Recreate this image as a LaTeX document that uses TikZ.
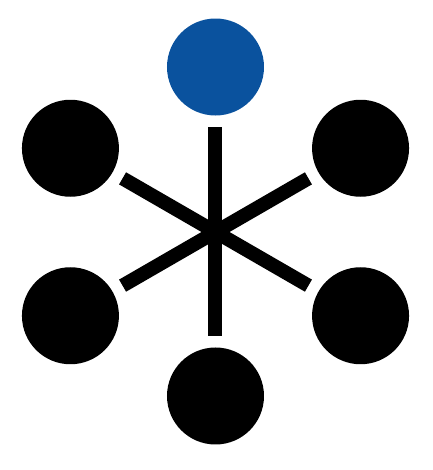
\documentclass[tikz,border=0pt]{standalone}
\usetikzlibrary{calc}

\definecolor{hubblue}{RGB}{10,82,158}

\tikzset{
	ball/.style = {circle, fill = black, minimum size = 0.97cm, inner sep = 0pt},
	arm/.style = {line width = 0.14cm, shorten > = 0.11cm}
}

\begin{document}
\begin{tikzpicture}
	
	% Page size
	
	\useasboundingbox (0, 0) rectangle (4.33, 4.70);
	
	% The hub
	
	\coordinate (hub) at (2.155, 2.38);
	
	% Six balls round the hub
	
	\node [ball, fill = hubblue] (top) at ($(hub) + (90 : 1.65)$) {};
	\node [ball] (topright) at ($(hub) + (30 : 1.675)$) {};
	\node [ball] (bottomright) at ($(hub) + (-30 : 1.675)$) {};
	\node [ball] (bottom) at ($(hub) + (270 : 1.64)$) {};
	\node [ball] (bottomleft) at ($(hub) + (210 : 1.675)$) {};
	\node [ball] (topleft) at ($(hub) + (150 : 1.675)$) {};
	
	% Spokes
	
	\begin{scope}[arm]
	
		\draw (hub) -- (top);
		\draw (hub) -- (topright);
		\draw (hub) -- (bottomright);
		\draw (hub) -- (bottom);
		\draw (hub) -- (bottomleft);
		\draw (hub) -- (topleft);
		
	\end{scope}

\end{tikzpicture}
\end{document}
